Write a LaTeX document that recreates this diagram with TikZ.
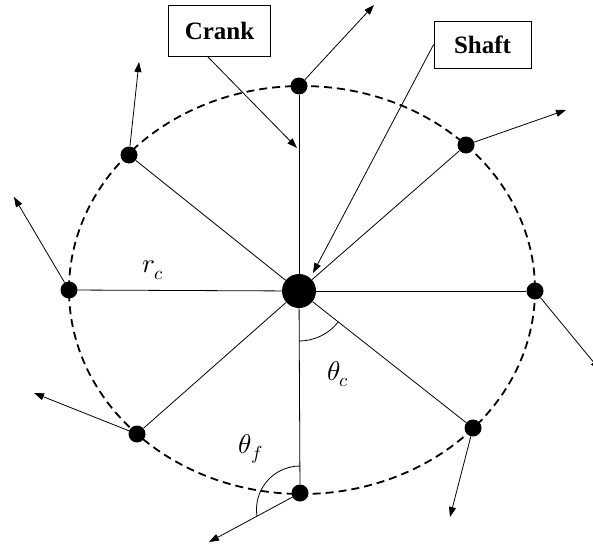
\documentclass[tikz,border=0pt]{standalone}
\usepackage{fontspec}
\usepackage{unicode-math}
\setmainfont{Liberation Serif}
\setmathfont{Latin Modern Math}
\usetikzlibrary{arrows.meta}

\begin{document}
\begin{tikzpicture}[x=1pt, y=-1pt,
    dot/.style={circle, fill, inner sep=0pt, minimum size=17pt},
    hubdot/.style={circle, fill, inner sep=0pt, minimum size=34pt},
    spoke/.style={line width=0.8pt},
    push/.style={line width=0.8pt, -{Triangle[length=10pt, width=7pt]}},
    rim/.style={line width=1.8pt, dash pattern=on 8pt off 5pt},
    tag/.style={draw, line width=0.8pt, inner sep=0pt, minimum width=102pt,
      minimum height=51pt, font=\fontsize{25}{30}\selectfont\bfseries},
    sym/.style={font=\fontsize{27}{32}\selectfont}]

  \useasboundingbox (0,0) rectangle (593,551);

  \draw[rim] (302,290) ellipse[x radius=233, y radius=204];

  \node[hubdot] (c) at (299,291) {};

  \node[dot] (p1) at (299,86) {};
  \node[dot] (p2) at (466,145) {};
  \node[dot] (p3) at (535,291) {};
  \node[dot] (p4) at (473,428) {};
  \node[dot] (p5) at (300,493) {};
  \node[dot] (p6) at (137,434) {};
  \node[dot] (p7) at (69,290) {};
  \node[dot] (p8) at (129,155) {};

  \coordinate (f1) at (374,5);
  \coordinate (f2) at (566,110);
  \coordinate (f3) at (600,370);
  \coordinate (f4) at (450,517);
  \coordinate (f5) at (209,542);
  \coordinate (f6) at (34,393);
  \coordinate (f7) at (14,197);
  \coordinate (f8) at (139,62);

%  \draw (p1) node {p1};
%  \draw (p5) node {p5};

  \draw[spoke] (c) -- (p1);
  \draw[spoke] (c) -- (p2);
  \draw[spoke] (c) -- (p3);
  \draw[spoke] (c) -- (p4);
  \draw[spoke] (c) -- (p5);
  \draw[spoke] (c) -- (p6);
  \draw[spoke] (c) -- (p7);
  \draw[spoke] (c) -- (p8);

  \draw[push] (p1) -- (f1);
  \draw[push] (p2) -- (f2);
  \draw[push] (p3) -- (f3);
  \draw[push] (p4) -- (f4);
  \draw[push] (p5) -- (f5);
  \draw[push] (p6) -- (f6);
  \draw[push] (p7) -- (f7);
  \draw[push] (p8) -- (f8);

  \draw[spoke] (c.center) ++(0,50) arc[start angle=90, end angle=38, radius=50];
  \draw[spoke] (p5.center) ++(0,-27) arc[start angle=270, end angle=171, radius=43.5];

  \node[sym] (rc) at (153,270) {$r_c$};
  \node[sym] (tc) at (338,374) {$\theta_c$};
  \node[sym] (tf) at (251,449) {$\theta_f$};

  \node[tag] (crank) at (219.5,30.5) {Crank};
  \node[tag, minimum width=97pt, minimum height=47pt] (shaft) at (482.5,44.5) {Shaft};

  \coordinate (k) at (297,148);
  \coordinate (s) at (313,273);

  \draw[push] (crank.245) -- (k);
  \draw[push] (shaft.west) -- (s);

\end{tikzpicture}
\end{document}
